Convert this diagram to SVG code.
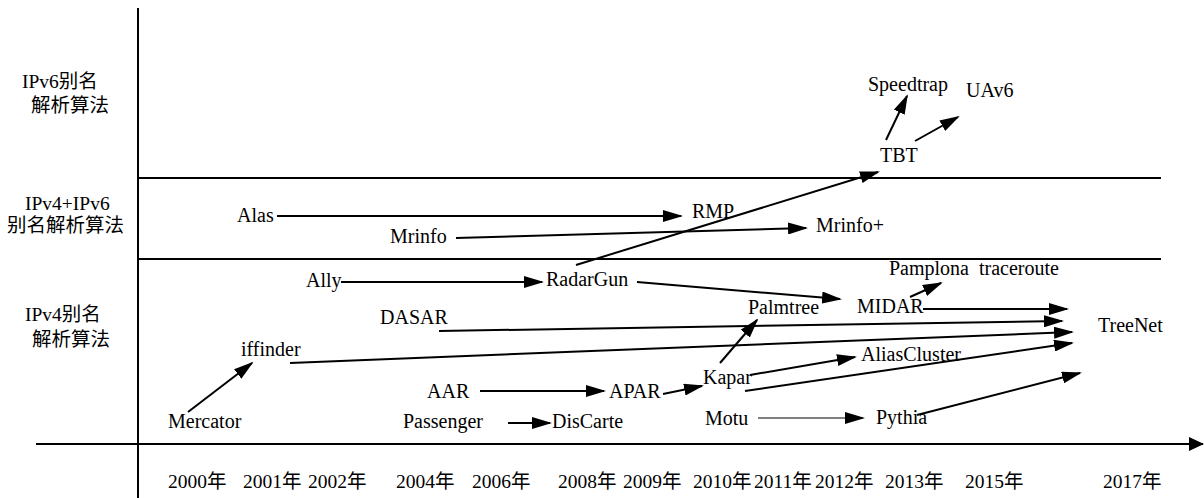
<svg xmlns="http://www.w3.org/2000/svg" width="1204" height="498" viewBox="0 0 1204 498">
<style>
text{font-family:"Liberation Serif","Noto Sans CJK SC",serif;font-size:20px;fill:#000}
.cat{font-size:19.5px}
.yr{font-size:19.5px}
.ax{stroke:#000;stroke-width:2;fill:none}
.c{stroke:#000;stroke-width:2;fill:none;marker-end:url(#ah)}
.thin{stroke:#000;stroke-width:1;fill:none;marker-end:url(#ah)}
</style>
<defs>
<marker id="ah" markerUnits="userSpaceOnUse" markerWidth="20" markerHeight="12" refX="18" refY="6" orient="auto">
<path d="M0,0 L20,6 L0,12 z" fill="#000"/>
</marker>
<marker id="axh" markerUnits="userSpaceOnUse" markerWidth="15" markerHeight="14" refX="14" refY="7" orient="auto">
<path d="M0,0 L15,7 L0,14 z" fill="#000"/>
</marker>
</defs>
<g id="frame">
<line class="ax" x1="138" y1="8" x2="138" y2="498"/>
<line class="ax" x1="138" y1="178" x2="1161" y2="178"/>
<line class="ax" x1="138" y1="259" x2="1161" y2="259"/>
<line class="ax" x1="36" y1="444" x2="1203" y2="444" marker-end="url(#axh)"/>
</g>
<g id="categories">
<text class="cat" x="22" y="88">IPv6别名</text>
<text class="cat" x="31" y="112">解析算法</text>
<text class="cat" x="25" y="210">IPv4+IPv6</text>
<text class="cat" x="7" y="232">别名解析算法</text>
<text class="cat" x="25" y="321">IPv4别名</text>
<text class="cat" x="32" y="346">解析算法</text>
</g>
<g id="years">
<text class="yr" x="168" y="488">2000年</text>
<text class="yr" x="243" y="488">2001年</text>
<text class="yr" x="308" y="488">2002年</text>
<text class="yr" x="396" y="488">2004年</text>
<text class="yr" x="472" y="488">2006年</text>
<text class="yr" x="558" y="488">2008年</text>
<text class="yr" x="623" y="488">2009年</text>
<text class="yr" x="693" y="488">2010年</text>
<text class="yr" x="754" y="488">2011年</text>
<text class="yr" x="815" y="488">2012年</text>
<text class="yr" x="885" y="488">2013年</text>
<text class="yr" x="965" y="488">2015年</text>
<text class="yr" x="1103" y="488">2017年</text>
</g>
<g id="connectors">
<line class="c" x1="886" y1="140" x2="907" y2="96"/>
<line class="c" x1="915" y1="141" x2="958" y2="117"/>
<line class="c" x1="576" y1="265" x2="878" y2="172"/>
<line class="c" x1="277" y1="216" x2="681" y2="216"/>
<line class="c" x1="456" y1="238" x2="806" y2="228"/>
<line class="c" x1="341" y1="282" x2="542" y2="282"/>
<line class="c" x1="637" y1="282" x2="840" y2="299"/>
<line class="c" x1="923" y1="309" x2="1067" y2="309"/>
<line class="c" x1="910" y1="297" x2="941" y2="283"/>
<line class="c" x1="439" y1="331" x2="1062" y2="321"/>
<line class="c" x1="290" y1="363" x2="1072" y2="332"/>
<line class="c" x1="188" y1="412" x2="252" y2="363"/>
<line class="c" x1="480" y1="391" x2="604" y2="391"/>
<line class="c" x1="663" y1="394" x2="702" y2="386"/>
<line class="c" x1="720" y1="363" x2="757" y2="320"/>
<line class="c" x1="750" y1="375" x2="855" y2="357"/>
<line class="c" x1="745" y1="391" x2="1072" y2="343"/>
<line class="c" x1="508" y1="423" x2="550" y2="423"/>
<line class="thin" x1="758" y1="418" x2="863" y2="418"/>
<line class="c" x1="917" y1="415" x2="1080" y2="373"/>
</g>
<g id="n-speedtrap"><text x="868" y="91">Speedtrap</text></g>
<g id="n-uav6"><text x="966" y="97">UAv6</text></g>
<g id="n-tbt"><text x="880" y="162">TBT</text></g>
<g id="n-alas"><text x="237" y="222">Alas</text></g>
<g id="n-rmp"><text x="692" y="218">RMP</text></g>
<g id="n-mrinfo"><text x="390" y="243">Mrinfo</text></g>
<g id="n-mrinfoplus"><text x="816" y="232">Mrinfo+</text></g>
<g id="n-pamplona"><text x="889" y="275" xml:space="preserve">Pamplona  traceroute</text></g>
<g id="n-ally"><text x="306" y="287">Ally</text></g>
<g id="n-radargun"><text x="546" y="286">RadarGun</text></g>
<g id="n-palmtree"><text x="748" y="314">Palmtree</text></g>
<g id="n-midar"><text x="857" y="313">MIDAR</text></g>
<g id="n-dasar"><text x="380" y="324">DASAR</text></g>
<g id="n-treenet"><text x="1098" y="332">TreeNet</text></g>
<g id="n-iffinder"><text x="241" y="356">iffinder</text></g>
<g id="n-aliascluster"><text x="861" y="361">AliasCluster</text></g>
<g id="n-kapar"><text x="703" y="384">Kapar</text></g>
<g id="n-aar"><text x="427" y="398">AAR</text></g>
<g id="n-apar"><text x="609" y="398">APAR</text></g>
<g id="n-mercator"><text x="168" y="428">Mercator</text></g>
<g id="n-passenger"><text x="403" y="428">Passenger</text></g>
<g id="n-discarte"><text x="552" y="428">DisCarte</text></g>
<g id="n-motu"><text x="705" y="425">Motu</text></g>
<g id="n-pythia"><text x="876" y="424">Pythia</text></g>
</svg>
